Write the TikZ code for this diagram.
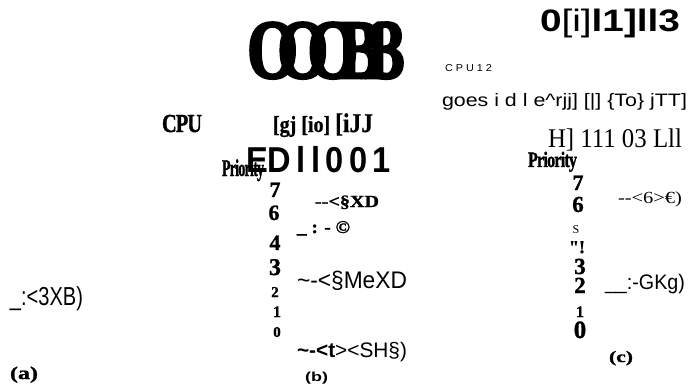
\documentclass[tikz,border=0pt]{standalone}
\usepackage{fontspec}
\setmainfont{Liberation Serif}
\setsansfont{Liberation Sans}
\usepackage{graphicx}
\newcommand\fitw[2]{\resizebox{#1}{\height}{#2}}
\newcommand\fs[1]{\fontsize{#1}{#1}\selectfont}
\newcommand\hb[1][1.2]{\bfseries\addfontfeature{FakeBold=#1}}
\tikzset{
  txt/.style={anchor=base west, inner sep=0pt, outer sep=0pt},
  num/.style={anchor=base, inner sep=0pt, outer sep=0pt},
}
\begin{document}
\begin{tikzpicture}[x=1pt,y=-1pt]
\useasboundingbox (0,0) rectangle (688,385);
% top big glyphs
\node[txt] (big) at (247,78) {\fitw{158pt}{\fs{84}\hb[3]\addfontfeature{LetterSpace=-32}OOOB13}};
\node[txt] (topr) at (540,32) {\fitw{140pt}{\fs{31}\sffamily\bfseries 0{\mdseries[i]}l1]ll3}};
\node[txt] (cpu12) at (445,72) {\fitw{47pt}{\fs{10}\sffamily C P U 1 2}};
\node[txt] (goes) at (442,107) {\fitw{245pt}{\fs{18}\sffamily goes i d l e\textasciicircum rjj] [|] \{To\} jTT]}};
\node[txt] (hrow) at (548,147) {\fitw{134pt}{\fs{27}H] 111 03 Lll}};
% panel b header
\node[txt] (cpu) at (162,132) {\fitw{40pt}{\fs{26}\hb[1.5]\addfontfeature{LetterSpace=-5}CPU}};
\node[txt] (gj) at (273,132) {\fitw{100pt}{\fs{23}\hb[0.8][gj [io] {\fs{27}[iJJ}}};
\node[txt] (ed) at (246,172) {\fitw{145pt}{\fs{36}\sffamily\bfseries ED\,l\,l\,0\,0\,1}};
\node[txt] (prb) at (222,176) {\fitw{42pt}{\fs{24}\hb[1.5]\addfontfeature{LetterSpace=-5}Priority}};
% panel b numbers
\node[num, font=\fs{22}\hb] (b7) at (275,197) {7};
\node[num, font=\fs{22}\hb] (b6) at (274,220) {6};
\node[num, font=\fs{22}\hb] (b4) at (275,250) {4};
\node[num, font=\fs{24}\hb] (b3) at (275,275) {3};
\node[num, font=\fs{15}\hb] (b2) at (275,297) {2};
\node[num, font=\fs{16}\hb] (b1) at (277,317) {1};
\node[num, font=\fs{15}\hb] (b0) at (277,337) {0};
% panel b labels
\node[txt] (bl1) at (315,207) {\fitw{64pt}{\fs{17}\hb -{}-<§XD}};
\node[txt] (bl2) at (297,233) {\fitw{53pt}{\fs{18}\hb \_ : - ©}};
\node[txt] (bl3) at (297,288) {\fitw{110pt}{\fs{24}\sffamily \textasciitilde-<§MeXD}};
\node[txt] (bl4) at (297,357) {\fitw{110pt}{\fs{21}\sffamily{\bfseries \textasciitilde-<t}><SH§)}};
\node[txt] (lb) at (305,381) {\fitw{23pt}{\fs{13}\sffamily\bfseries (b)}};
% panel a
\node[txt] (al) at (10,305) {\fitw{73pt}{\fs{26}\sffamily \_:<3XB)}};
\node[txt] (la) at (10,379) {\fitw{28pt}{\fs{18}\hb (a)}};
% panel c
\node[txt] (prc) at (528,167) {\fitw{49pt}{\fs{22}\hb[1.5]\addfontfeature{LetterSpace=-5}Priority}};
\node[num, font=\fs{22}\hb] (c7) at (578,190) {7};
\node[num, font=\fs{23}\hb] (c6) at (578,212) {6};
\node[num, font=\fs{12}] (cs) at (576,233) {S};
\node[num, font=\fs{18}\hb] (ce) at (577,253) {\textquotedbl!};
\node[num, font=\fs{23}\hb] (c3) at (580,274) {3};
\node[num, font=\fs{23}\hb] (c2) at (580,293) {2};
\node[num, font=\fs{16}\hb] (c1) at (580,317) {1};
\node[num, font=\fs{25}\hb] (c0) at (580,338) {0};
\node[txt] (cl1) at (618,203) {\fitw{64pt}{\fs{17}-{}-<6>€)}};
\node[txt] (cl2) at (605,289) {\fitw{80pt}{\fs{21}\sffamily \_\_:-GKg)}};
\node[txt] (lc) at (609,362) {\fitw{24pt}{\fs{16}\hb (c)}};
\end{tikzpicture}
\end{document}
